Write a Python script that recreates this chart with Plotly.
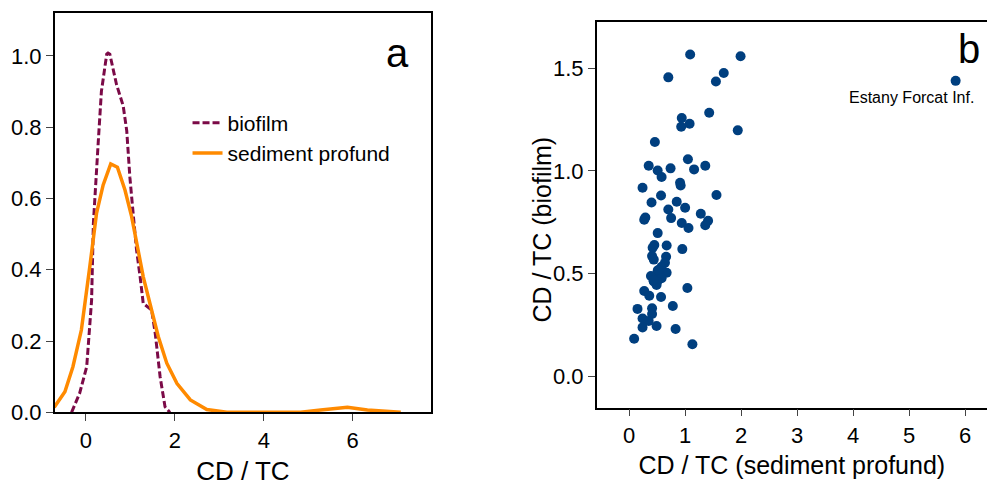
import plotly.graph_objects as go

# ---- Panel a: density curves ----
bio_x = [-0.32, -0.14, 0.02, 0.13, 0.17, 0.20, 0.28, 0.35, 0.39, 0.47, 0.50, 0.54,
         0.69, 0.73, 0.84, 0.92, 0.99, 1.07, 1.14, 1.22, 1.29, 1.48, 1.56, 1.67, 1.78, 1.89]
bio_y = [0.0, 0.053, 0.128, 0.315, 0.53, 0.60, 0.76, 0.90, 0.935, 1.005, 1.008, 1.005,
         0.92, 0.905, 0.86, 0.79, 0.66, 0.55, 0.456, 0.381, 0.306, 0.287, 0.222, 0.10, 0.016, 0.0]

sed_x = [-0.71, -0.47, -0.29, -0.10, 0.09, 0.24, 0.39, 0.56, 0.71, 0.88, 1.03, 1.14,
         1.29, 1.44, 1.63, 1.82, 2.05, 2.35, 2.72, 3.17, 4.0, 4.83, 5.28, 5.88, 6.33, 7.08]
sed_y = [0.014, 0.058, 0.128, 0.231, 0.409, 0.558, 0.638, 0.697, 0.688, 0.624, 0.549, 0.474,
         0.381, 0.306, 0.212, 0.138, 0.081, 0.035, 0.008, 0.0, 0.0, 0.0, 0.0065, 0.014, 0.0065, 0.0]

# ---- Panel b: scatter ----
sed_pts = [1.09, 1.99, 0.70, 1.55, 1.69, 5.83, 1.43, 0.94, 0.93, 1.08, 1.94, 0.46,
           0.35, 0.51, 0.58, 0.74, 1.05, 1.16, 1.36, 0.24, 0.91, 0.92, 0.40, 0.57,
           0.85, 1.56, 0.29, 0.27, 0.70, 0.75, 1.00, 1.28, 0.94, 1.06, 1.36, 1.41,
           0.51, 0.45, 0.42, 0.67, 0.95, 0.41, 0.44, 0.66, 0.64, 0.58, 0.51, 0.67,
           0.39, 0.55, 0.44, 0.49, 0.58, 1.04, 0.27, 0.36, 0.57, 0.15, 0.41, 0.78,
           0.41, 0.24, 0.35, 0.24, 0.49, 0.83, 0.09, 1.13, 0.52, 0.50, 0.435]
bio_pts = [1.566, 1.558, 1.455, 1.435, 1.476, 1.438, 1.283, 1.257, 1.215, 1.229, 1.197, 1.14,
           1.025, 1.002, 0.970, 1.012, 1.056, 1.007, 1.025, 0.918, 0.942, 0.929, 0.846, 0.880,
           0.850, 0.882, 0.773, 0.762, 0.812, 0.770, 0.820, 0.791, 0.746, 0.722, 0.735, 0.757,
           0.697, 0.639, 0.626, 0.637, 0.619, 0.585, 0.568, 0.582, 0.553, 0.533, 0.514, 0.504,
           0.488, 0.491, 0.461, 0.444, 0.477, 0.430, 0.415, 0.392, 0.386, 0.328, 0.331, 0.342,
           0.303, 0.281, 0.269, 0.238, 0.245, 0.230, 0.183, 0.156, 0.517, 0.46, 0.469]
outlier_label = "Estany Forcat Inf."
outlier_idx = 5

FONT = "Liberation Sans, Arial, sans-serif"
MAROON = "#7b0a47"
ORANGE = "#ff8a00"
BLUE = "#003f7f"

fig = go.Figure()
fig.add_trace(go.Scatter(x=bio_x, y=bio_y, mode="lines", name="biofilm",
                         line=dict(color=MAROON, width=3, dash="7px,3px"),
                         xaxis="x", yaxis="y"))
fig.add_trace(go.Scatter(x=sed_x, y=sed_y, mode="lines", name="sediment profund",
                         line=dict(color=ORANGE, width=3.5),
                         xaxis="x", yaxis="y"))
fig.add_trace(go.Scatter(x=sed_pts, y=bio_pts, mode="markers", showlegend=False,
                         marker=dict(color=BLUE, size=10, line=dict(width=0)),
                         xaxis="x2", yaxis="y2"))

axis_common = dict(showgrid=False, zeroline=False, showline=True, linecolor="black",
                   linewidth=1.5, ticks="outside", ticklen=7, tickcolor="#444",
                   automargin=False,
                   tickfont=dict(family=FONT, size=22, color="black"))

fig.update_layout(
    width=987, height=488,
    margin=dict(l=0, r=0, t=0, b=0),
    paper_bgcolor="white", plot_bgcolor="white",
    font=dict(family=FONT, color="black"),
    xaxis=dict(domain=[0.0554, 0.4367], range=[-0.7, 7.76], tickvals=[0, 2, 4, 6],
               mirror=True, anchor="y",
               title=dict(text="CD / TC", font=dict(size=26), standoff=10), **axis_common),
    yaxis=dict(domain=[0.155, 0.973], range=[0, 1.12], tickvals=[0, 0.2, 0.4, 0.6, 0.8, 1.0],
               tickformat=".1f", mirror=True, anchor="x", **axis_common),
    xaxis2=dict(domain=[0.6046, 1.0], range=[-0.578, 6.39], tickvals=[0, 1, 2, 3, 4, 5, 6],
                mirror=True, anchor="y2",
                title=dict(text="CD / TC (sediment profund)", font=dict(size=25), standoff=10),
                **axis_common),
    yaxis2=dict(domain=[0.1645, 0.9543], range=[-0.153, 1.723], tickvals=[0, 0.5, 1.0, 1.5],
                tickformat=".1f", mirror=False, anchor="x2", **axis_common),
    legend=dict(x=0.19, y=0.79, xanchor="left", yanchor="top", bgcolor="rgba(0,0,0,0)",
                font=dict(family=FONT, size=21, color="black"), tracegroupgap=0),
    showlegend=True,
    annotations=[
        dict(text="CD / TC (biofilm)", xref="paper", yref="paper", x=0.5488, y=0.529,
             textangle=-90, showarrow=False, xanchor="center", yanchor="middle",
             font=dict(family=FONT, size=25, color="black")),
        dict(text="a", xref="x domain", yref="y domain", x=0.91, y=0.90,
             showarrow=False, font=dict(family=FONT, size=40, color="black"),
             xanchor="center", yanchor="middle"),
        dict(text="b", xref="x2 domain", yref="y2 domain", x=0.955, y=0.93,
             showarrow=False, font=dict(family=FONT, size=40, color="black"),
             xanchor="center", yanchor="middle"),
        dict(text=outlier_label, xref="x2", yref="y2", x=sed_pts[outlier_idx],
             y=bio_pts[outlier_idx], showarrow=False, xanchor="right", yanchor="middle",
             xshift=20, yshift=-17, font=dict(family=FONT, size=16, color="black")),
    ],
)

fig.write_html("out.html")
